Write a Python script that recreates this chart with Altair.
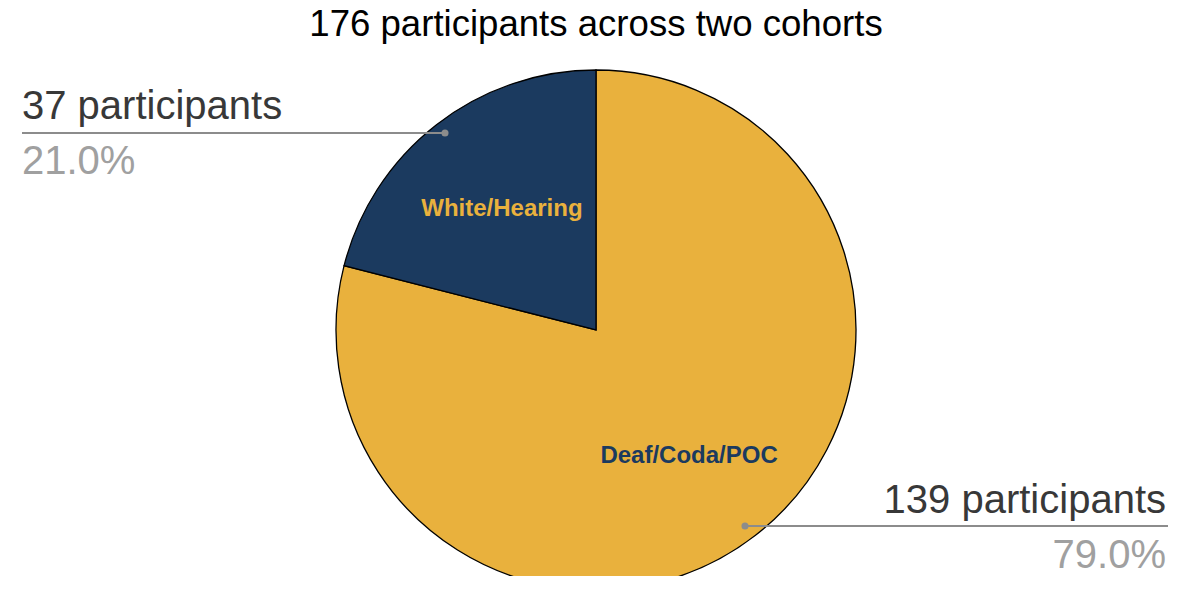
import altair as alt
import pandas as pd

# ---- data ----
groups = ["Deaf/Coda/POC", "White/Hearing"]
counts = [139, 37]
shares = ["79.0%", "21.0%"]
slice_colors = ["#E9B13D", "#1B3A5F"]
inner_label_colors = ["#1B3A5F", "#E9B13D"]
title_text = "176 participants across two cohorts"

df = pd.DataFrame({
    "group": groups,
    "count": counts,
    "share": shares,
    "rank": list(range(len(groups))),
    "callout": [f"{c} participants" for c in counts],
})

FONT = "Liberation Sans"
CX, CY, R = 588, 280, 260

base = alt.Chart(df)

pie = base.mark_arc(outerRadius=R, stroke="#000000", strokeWidth=1.3).encode(
    theta=alt.Theta("count:Q", stack=True),
    color=alt.Color("group:N", scale=alt.Scale(domain=groups, range=slice_colors), legend=None),
    order=alt.Order("rank:Q", sort="ascending"),
    x=alt.value(CX),
    y=alt.value(CY),
)

def inner_label(idx, dx, dy):
    name = groups[idx]
    return base.mark_text(
        radius=155, font=FONT, fontSize=24, fontWeight="bold", dx=dx, dy=dy,
        align="center", baseline="middle", color=inner_label_colors[idx],
    ).encode(
        theta=alt.Theta("count:Q", stack=True),
        order=alt.Order("rank:Q", sort="ascending"),
        text="group:N",
        x=alt.value(CX),
        y=alt.value(CY),
        opacity=alt.condition(alt.datum.group == name, alt.value(1), alt.value(0)),
    )

lbl_deaf = inner_label(0, -2, 4)
lbl_white = inner_label(1, 1, 1)

LINE_C = "#8C8C8C"

def callout(name, tx, ty_top, ty_pct, lx1, lx2, ly, dotx, align):
    d = base.transform_filter(alt.datum.group == name)
    t1 = d.mark_text(font=FONT, fontSize=40, color="#383838", align=align, baseline="alphabetic").encode(
        text="callout:N", x=alt.value(tx), y=alt.value(ty_top))
    t2 = d.mark_text(font=FONT, fontSize=40, color="#A0A0A0", align=align, baseline="alphabetic").encode(
        text="share:N", x=alt.value(tx), y=alt.value(ty_pct))
    ln = d.mark_rule(color=LINE_C, strokeWidth=2).encode(
        x=alt.value(lx1), x2=alt.value(lx2), y=alt.value(ly))
    dot = d.mark_point(filled=True, color=LINE_C, size=50, opacity=1).encode(
        x=alt.value(dotx), y=alt.value(ly))
    return t1 + t2 + ln + dot

left = callout("White/Hearing", 14, 69, 124, 14, 437, 83, 437, "left")
right = callout("Deaf/Coda/POC", 1158, 463, 518, 737, 1160, 476, 737, "right")

title = alt.Chart(pd.DataFrame({"t": [title_text]})).mark_text(
    font=FONT, fontSize=36.6, color="#000000", align="center", baseline="alphabetic"
).encode(text="t:N", x=alt.value(CX), y=alt.value(-14))

chart = alt.layer(pie, lbl_deaf, lbl_white, left, right, title).properties(
    width=1177,
    height=526,
    padding={"left": 0, "top": 42, "right": 0, "bottom": 0},
    autosize=alt.AutoSizeParams(type="none"),
).configure_view(stroke=None)

chart.save("out.html", embed_options={"renderer": "svg", "actions": False})
